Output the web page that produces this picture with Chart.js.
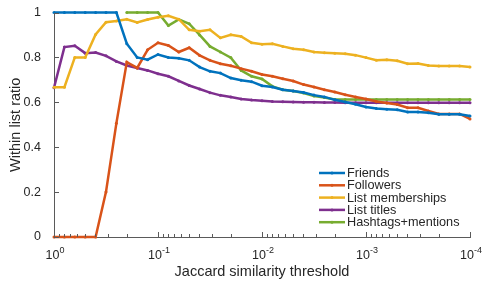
<!DOCTYPE html>
<html>
<head>
<meta charset="utf-8">
<script src="https://cdn.jsdelivr.net/npm/chart.js@4.4.1/dist/chart.umd.min.js"></script>
<style>
  body { margin: 0; background: #fff; }
  #wrap { width: 482px; height: 285px; }
</style>
</head>
<body>
<div id="wrap"><canvas id="myChart"></canvas></div>
<script>
// Jaccard thresholds, 10 per decade
const thresholds = [
  1, 0.7943, 0.6310, 0.5012, 0.3981, 0.3162, 0.2512, 0.1995, 0.1585, 0.1259,
  0.1, 0.07943, 0.06310, 0.05012, 0.03981, 0.03162, 0.02512, 0.01995, 0.01585, 0.01259,
  0.01, 0.007943, 0.006310, 0.005012, 0.003981, 0.003162, 0.002512, 0.001995, 0.001585, 0.001259,
  0.001, 0.0007943, 0.0006310, 0.0005012, 0.0003981, 0.0003162, 0.0002512, 0.0001995, 0.0001585, 0.0001259,
  0.0001
]

const friends = [1,1,1,1,1,1,1,0.861,0.80,0.79,0.813,0.80,0.796,0.787,0.757,0.738,0.730,0.708,0.698,0.692,0.674,
  0.668,0.656,0.650,0.644,0.632,0.624,0.611,0.601,0.591,0.579,0.572,0.569,0.567,0.557,0.557,0.553,0.547,0.547,0.547,0.539]
const followers = [0,0,0,0,0,0.201,0.507,0.779,0.753,0.834,0.865,0.853,0.824,0.843,0.809,0.787,0.772,0.763,0.750,0.738,0.724,
  0.716,0.705,0.695,0.679,0.668,0.656,0.646,0.634,0.624,0.615,0.604,0.597,0.590,0.576,0.576,0.561,0.548,0.548,0.548,0.526]
const listMemberships = [0.667,0.667,0.80,0.80,0.902,0.957,0.962,0.97,0.956,0.969,0.979,0.985,0.97,0.923,0.917,0.923,0.887,0.901,0.893,0.865,0.859,
  0.861,0.849,0.839,0.834,0.824,0.821,0.818,0.816,0.81,0.799,0.787,0.79,0.785,0.772,0.773,0.764,0.762,0.762,0.762,0.757]
const listTitles = [0.665,0.846,0.852,0.819,0.822,0.807,0.782,0.764,0.753,0.742,0.727,0.716,0.695,0.675,0.659,0.643,0.631,0.624,0.615,0.610,0.607,
  0.604,0.603,0.601,0.600,0.600,0.599,0.599,0.598,0.598,0.598,0.598,0.598,0.598,0.598,0.598,0.598,0.598,0.598,0.598,0.598]
const hashtags = [null,null,null,null,null,null,null,1,1,1,1,0.942,0.969,0.95,0.90,0.849,0.824,0.799,0.742,0.716,0.704,
  0.671,0.656,0.650,0.641,0.628,0.621,0.613,0.612,0.612,0.612,0.612,0.612,0.612,0.612,0.612,0.612,0.612,0.612,0.612,0.612]

const seriesNames = ['Friends','Followers','List memberships','List titles','Hashtags+mentions']
const seriesColors = ['#0072BD','#D95319','#EDB120','#7E2F8E','#77AC30']
const xTicks = [1, 0.1, 0.01, 0.001, 0.0001]
const yTicks = [0, 0.2, 0.4, 0.6, 0.8, 1]

const FONT = '"Liberation Sans", Arial, Helvetica, sans-serif'
const AXIS = '#5a5a5a'
const TEXT = '#262626'

function pts(arr) {
  const out = []
  for (let i = 0; i < thresholds.length; i++) {
    if (arr[i] !== null) out.push({x: thresholds[i], y: arr[i]})
  }
  return out
}

const allSeries = [friends, followers, listMemberships, listTitles, hashtags]
const datasets = allSeries.map((arr, i) => ({
  label: seriesNames[i],
  data: pts(arr),
  borderColor: seriesColors[i],
  backgroundColor: seriesColors[i],
  borderWidth: 2.5,
  pointRadius: 1.5,
  pointBorderWidth: 0,
  pointHoverRadius: 0,
  tension: 0,
  clip: false
}))

// inward ticks, power-of-ten labels and the inside legend
const extras = {
  id: 'extras',
  afterDraw(chart) {
    const c = chart.ctx
    const xs = chart.scales.x, ys = chart.scales.y
    const a = chart.chartArea
    c.save()
    c.strokeStyle = AXIS
    c.lineWidth = 1
    c.beginPath()
    for (let e = 0; e >= -4; e--) {
      const px = Math.round(xs.getPixelForValue(Math.pow(10, e))) + 0.5
      c.moveTo(px, a.bottom); c.lineTo(px, a.bottom - 5)
      if (e > -4) {
        for (let m = 2; m <= 9; m++) {
          const mx = Math.round(xs.getPixelForValue(m * Math.pow(10, e - 1))) + 0.5
          c.moveTo(mx, a.bottom); c.lineTo(mx, a.bottom - 3)
        }
      }
    }
    yTicks.forEach(v => {
      const py = Math.round(ys.getPixelForValue(v)) + 0.5
      c.moveTo(a.left, py); c.lineTo(a.left + 5, py)
    })
    c.stroke()

    c.fillStyle = TEXT
    c.textBaseline = 'alphabetic'
    xTicks.forEach((v, i) => {
      const px = xs.getPixelForValue(v)
      const exp = i === 0 ? '0' : '-' + i
      c.font = '12.5px ' + FONT
      const wb = c.measureText('10').width
      c.font = '9px ' + FONT
      const we = c.measureText(exp).width
      const x0 = px - (wb + we) / 2 + 1
      c.font = '12.5px ' + FONT
      c.textAlign = 'left'
      c.fillText('10', x0, a.bottom + 22)
      c.font = '9px ' + FONT
      c.fillText(exp, x0 + wb, a.bottom + 16)
    })

    // legend
    const lx = 319, ly = 173, step = 12.3
    chart.data.datasets.forEach((ds, i) => {
      const y = ly + i * step
      c.strokeStyle = ds.borderColor
      c.lineWidth = 2.5
      c.beginPath(); c.moveTo(lx, y); c.lineTo(lx + 26, y); c.stroke()
      c.fillStyle = ds.borderColor
      c.beginPath(); c.arc(lx + 13, y, 1.5, 0, Math.PI * 2); c.fill()
      c.fillStyle = TEXT
      c.font = '12.7px ' + FONT
      c.textAlign = 'left'
      c.textBaseline = 'middle'
      c.fillText(ds.label, lx + 28, y + 0.5)
    })
    c.restore()
  }
}

const ctx = document.getElementById('myChart')
const myChart = new Chart(ctx, {
  type: 'line',
  data: { datasets },
  options: {
    responsive: true,
    maintainAspectRatio: false,
    animation: false,
    events: [],
    layout: { padding: { left: 0, right: 12, top: 12, bottom: 0 } },
    plugins: { legend: { display: false }, tooltip: { enabled: false } },
    scales: {
      x: {
        type: 'logarithmic',
        reverse: true,
        min: 0.0001,
        max: 1,
        afterBuildTicks: s => { s.ticks = xTicks.map(v => ({value: v})) },
        ticks: { display: false },
        grid: { display: false },
        border: { display: true, color: AXIS, width: 1 },
        title: {
          display: true,
          text: 'Jaccard similarity threshold',
          color: TEXT,
          font: { family: FONT, size: 14.5 },
          padding: { top: 0, bottom: 4 }
        },
        afterFit: s => { s.height = 48 }
      },
      y: {
        min: 0,
        max: 1,
        afterBuildTicks: s => { s.ticks = yTicks.map(v => ({value: v})) },
        ticks: {
          color: TEXT,
          font: { family: FONT, size: 12.5 },
          padding: 5,
          callback: v => String(Math.round(v * 10) / 10)
        },
        grid: { display: false },
        border: { display: true, color: AXIS, width: 1 },
        title: {
          display: true,
          text: 'Within list ratio',
          color: TEXT,
          font: { family: FONT, size: 14.5 },
          padding: { top: 7, bottom: 0 }
        },
        afterFit: s => { s.width = 54 }
      }
    }
  },
  plugins: [extras]
})
</script>
</body>
</html>
